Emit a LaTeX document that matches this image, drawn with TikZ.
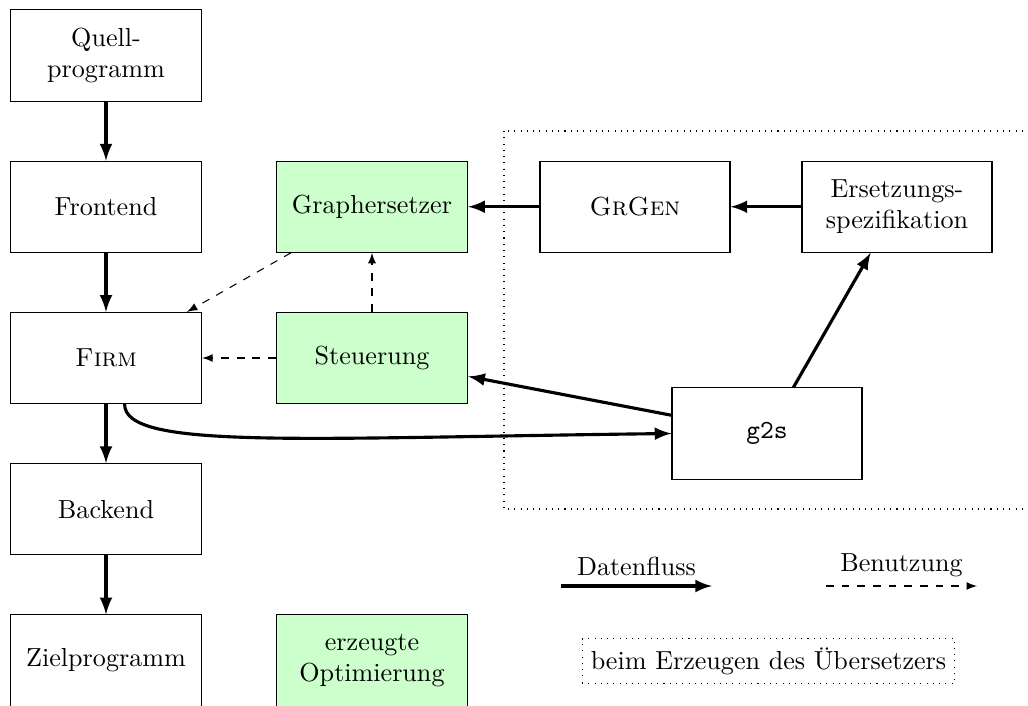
\documentclass[tikz,border=0pt]{standalone}
\begin{document}
\begin{tikzpicture}[
  x=0.38314pt, y=-0.38314pt,
  box/.style={draw, rectangle, align=center, inner sep=2pt,
              minimum width=73.3pt, minimum height=34.9pt},
  gen/.style={box, fill=green!20},
  flow/.style={very thick, -latex},
  use/.style={dashed, -latex},
  region/.style={dotted}
]
\useasboundingbox (0,0) rectangle (1028,706);

% compiler pipeline
\node[box] (quell) at (106,55.5)   {Quell-\\programm};
\node[box] (front) at (106,206.75) {Frontend};
\node[box] (firm)  at (106,358)    {\textsc{Firm}};
\node[box] (back)  at (106,509.25) {Backend};
\node[box] (ziel)  at (106,660.5)  {Zielprogramm};

% generated optimisation
\node[gen] (graph) at (372,206.75) {Graphersetzer};
\node[gen] (steu)  at (372,358)    {Steuerung};
\node[gen] (erz)   at (372,660.5)  {erzeugte\\Optimierung};

% generator side
\node[box, minimum width=72.8pt] (grgen) at (635,206.75) {\textsc{GrGen}};
\node[box, minimum width=72.8pt] (spec)  at (897,206.75) {Ersetzungs-\\spezifikation};
\node[box, minimum width=72.8pt] (g2s)   at (767,433.5)  {\texttt{g2s}};

% region: built while generating the compiler
\draw[region] (504,131) rectangle (1040,509);

% data flow
\draw[flow] (quell) -- (front);
\draw[flow] (front) -- (firm);
\draw[flow] (firm)  -- (back);
\draw[flow] (back)  -- (ziel);
\draw[flow] (grgen) -- (graph);
\draw[flow] (spec)  -- (grgen);
\draw[flow] (g2s)   -- (spec);
\draw[flow] (g2s)   -- (steu);
\draw[flow] (firm.-68) .. controls (124,450) and (300,438) .. (g2s.west);

% usage
\draw[use] (graph) -- (firm);
\draw[use] (steu)  -- (graph);
\draw[use] (steu)  -- (firm);

% legend
\coordinate (df1) at (561,586);
\coordinate (df2) at (712,586);
\coordinate (bz1) at (826,586);
\coordinate (bz2) at (977,586);
\draw[flow] (df1) -- node[above] (dflabel) {Datenfluss} (df2);
\draw[use]  (bz1) -- node[above] (bzlabel) {Benutzung} (bz2);
\node[draw, region] (legreg) at (768.5,661) {beim Erzeugen des Übersetzers};
\end{tikzpicture}
\end{document}
